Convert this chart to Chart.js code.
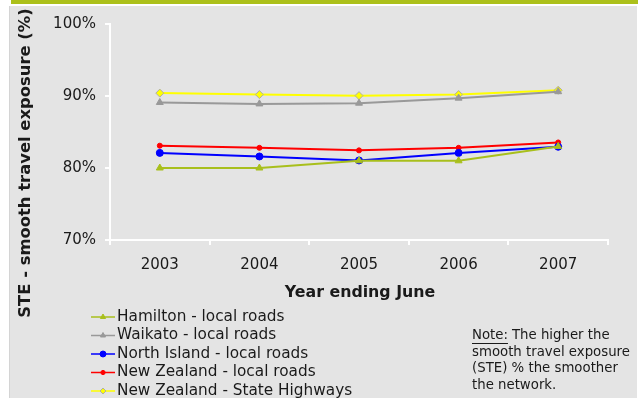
<!DOCTYPE html>
<html>
<head>
<meta charset="utf-8">
<script src="https://cdn.jsdelivr.net/npm/chart.js@4"></script>
<style>
  html, body { margin: 0; padding: 0; background: #ffffff; }
  #wrap { position: relative; width: 638px; height: 398px; }
  canvas { display: block; }
</style>
</head>
<body>
<div id="wrap"><canvas id="ste" width="638" height="398"></canvas></div>
<script>
// Survey years and smooth travel exposure (%) per network
const years = ['2003', '2004', '2005', '2006', '2007'];
const hamiltonLocal = [80.0, 80.0, 81.0, 81.0, 83.0];
const waikatoLocal = [89.1, 88.9, 89.0, 89.7, 90.6];
const northIslandLocal = [82.1, 81.6, 81.05, 82.1, 82.95];
const nzLocal = [83.1, 82.8, 82.45, 82.8, 83.55];
const nzStateHighways = [90.4, 90.2, 90.05, 90.2, 90.8];

const seriesNames = [
  'Hamilton - local roads',
  'Waikato - local roads',
  'North Island - local roads',
  'New Zealand - local roads',
  'New Zealand - State Highways'
];
const yTicks = [70, 80, 90, 100];
const yTitle = 'STE - smooth travel exposure (%)';
const xTitle = 'Year ending June';
const noteLines = ['The higher the', 'smooth travel exposure', '(STE) % the smoother', 'the network.'];

const FONT = '"DejaVu Sans", Verdana, sans-serif';
const TEXT = '#1a1a1a';

function series(label, data, color, style, radius, border) {
  return {
    label, data,
    borderColor: color,
    backgroundColor: color,
    borderWidth: 2,
    pointStyle: style,
    pointRadius: radius,
    pointBackgroundColor: color,
    pointBorderColor: border || color,
    pointBorderWidth: 1,
    tension: 0
  };
}

const datasets = [
  series(seriesNames[0], hamiltonLocal, '#a8bf1c', 'triangle', 4),
  series(seriesNames[1], waikatoLocal, '#999999', 'triangle', 4),
  series(seriesNames[2], northIslandLocal, '#0000ff', 'circle', 3.5),
  series(seriesNames[3], nzLocal, '#ff0000', 'circle', 2.5),
  series(seriesNames[4], nzStateHighways, '#ffff00', 'rectRot', 4, '#b0b0a0')
];

// Panel background with the olive header strip
const panel = {
  id: 'panel',
  beforeDraw(chart) {
    const c = chart.ctx;
    c.save();
    c.fillStyle = '#ffffff';
    c.fillRect(0, 0, 638, 398);
    c.fillStyle = '#acc01a';
    c.fillRect(11, 0, 627, 4);
    c.fillStyle = '#e4e4e4';
    c.fillRect(9, 6, 628, 392);
    c.fillStyle = '#d4d4d4';
    c.fillRect(9, 6, 1, 392);
    c.restore();
  }
};

// Axis titles, legend and explanatory note
const annotations = {
  id: 'annotations',
  afterDraw(chart) {
    const c = chart.ctx;
    const area = chart.chartArea;
    c.save();
    c.fillStyle = TEXT;

    // y-axis title
    c.save();
    c.translate(25.5, 163);
    c.rotate(-Math.PI / 2);
    c.font = 'bold 16.4px ' + FONT;
    c.textAlign = 'center';
    c.textBaseline = 'middle';
    c.fillText(yTitle, 0, 0);
    c.restore();

    // x-axis title
    c.font = 'bold 15.8px ' + FONT;
    c.textAlign = 'center';
    c.textBaseline = 'middle';
    c.fillText(xTitle, (area.left + area.right) / 2 + 1, 293);

    // legend
    c.font = '15.3px ' + FONT;
    c.textAlign = 'left';
    chart.data.datasets.forEach((ds, i) => {
      const y = 317 + i * 18.5;
      c.strokeStyle = ds.borderColor;
      c.lineWidth = 1.5;
      c.beginPath();
      c.moveTo(91, y);
      c.lineTo(115, y);
      c.stroke();
      c.fillStyle = ds.pointBackgroundColor;
      c.strokeStyle = ds.pointBorderColor;
      c.lineWidth = 1;
      Chart.helpers.drawPoint(c, {
        pointStyle: ds.pointStyle,
        radius: Math.min(ds.pointRadius, 3.5) * 0.85,
        rotation: 0,
        borderWidth: 1
      }, 103, y);
      c.fillStyle = TEXT;
      c.fillText(ds.label, 117, y);
    });

    // note
    c.font = '13.3px ' + FONT;
    c.textBaseline = 'middle';
    const nx = 472;
    const lead = 'Note:';
    const lw = c.measureText(lead).width;
    c.fillText(lead, nx, 336);
    c.fillRect(nx, 343, lw, 1);
    c.fillText(noteLines[0], nx + lw + 4, 336);
    for (let i = 1; i < noteLines.length; i++) {
      c.fillText(noteLines[i], nx, 336 + i * 16.4);
    }
    c.restore();
  }
};

new Chart(document.getElementById('ste'), {
  type: 'line',
  data: { labels: years, datasets },
  options: {
    responsive: false,
    animation: false,
    events: [],
    layout: { padding: { left: 0, top: 24, right: 30, bottom: 0 } },
    plugins: { legend: { display: false }, tooltip: { enabled: false } },
    scales: {
      x: {
        type: 'category',
        offset: true,
        grid: { drawOnChartArea: false, drawTicks: true, tickLength: 5, color: '#ffffff', lineWidth: 2, offset: true },
        border: { color: '#ffffff', width: 2 },
        ticks: { color: TEXT, font: { family: FONT, size: 15 }, padding: 11, maxRotation: 0 },
        afterFit(s) { s.height = 158; }
      },
      y: {
        min: 70, max: 100,
        afterBuildTicks(s) { s.ticks = yTicks.map(v => ({ value: v })); },
        grid: { drawOnChartArea: false, drawTicks: true, tickLength: 5, color: '#ffffff', lineWidth: 2 },
        border: { color: '#ffffff', width: 2 },
        ticks: { color: TEXT, font: { family: FONT, size: 15 }, padding: 9, callback: v => v + '%' },
        afterFit(s) { s.width = 110; }
      }
    }
  },
  plugins: [panel, annotations]
});
</script>
</body>
</html>
